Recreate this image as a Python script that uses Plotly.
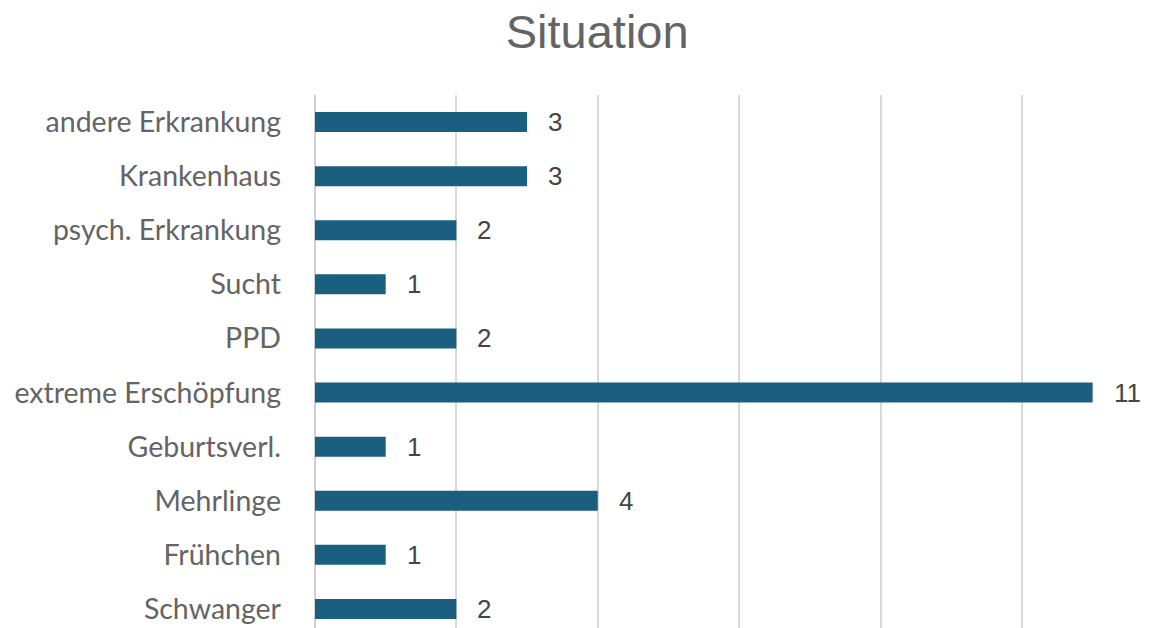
import plotly.graph_objects as go

# Categories listed bottom to top, as on the chart
categories = [
    "Schwanger", "Frühchen", "Mehrlinge", "Geburtsverl.", "extreme Erschöpfung",
    "PPD", "Sucht", "psych. Erkrankung", "Krankenhaus", "andere Erkrankung",
]
counts = [2, 1, 4, 1, 11, 2, 1, 2, 3, 3]

BAR_COLOR = "#1a5e80"
LABEL_GRAY = "#646464"
VALUE_GRAY = "#454545"

fig = go.Figure(go.Bar(
    x=counts,
    y=categories,
    orientation="h",
    width=0.37,
    marker=dict(color=BAR_COLOR, line=dict(width=0)),
    hoverinfo="skip",
))

# value labels to the right of each bar
for cat, val in zip(categories, counts):
    fig.add_annotation(
        x=val, y=cat, text=str(val), showarrow=False,
        xanchor="left", xshift=19,
        font=dict(family="Liberation Sans, Arial", size=26, color=VALUE_GRAY),
    )

# page body adds an 8px offset, so the figure is 8px smaller than the window
fig.update_layout(
    title=dict(
        text="Situation", x=0.515, xanchor="center", y=0.962, yanchor="middle",
        font=dict(family="Liberation Sans, Arial", size=47, color=LABEL_GRAY),
    ),
    width=1144,
    height=620,
    margin=dict(l=307, r=0, t=87, b=0, autoexpand=False),
    plot_bgcolor="white",
    paper_bgcolor="white",
    showlegend=False,
)

fig.update_xaxes(
    range=[0, 11.84], dtick=2, showticklabels=False,
    showgrid=True, gridcolor="#d9d9d9", gridwidth=2,
    zeroline=True, zerolinecolor="#d0d0d0", zerolinewidth=2,
)
fig.update_yaxes(
    range=[-0.352, 9.5], showgrid=False, ticks="",
    ticklabelstandoff=33,
    tickfont=dict(family="Lato", size=28.5, color=LABEL_GRAY),
)

fig.write_html("out.html")
